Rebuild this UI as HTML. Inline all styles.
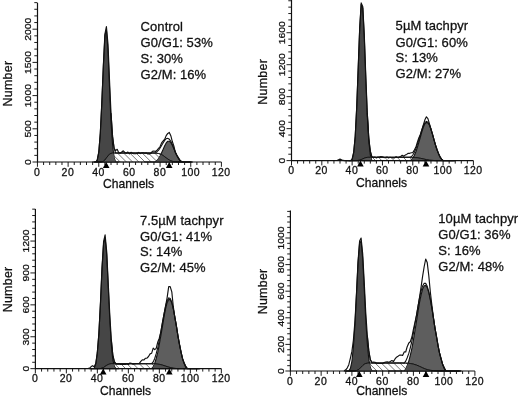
<!DOCTYPE html>
<html><head><meta charset="utf-8"><title>Cell cycle histograms</title>
<style>
html,body{margin:0;padding:0;background:#fff;}
svg{display:block}
text{font-family:"Liberation Sans",sans-serif;fill:#111;stroke:#111;stroke-width:0.28px}
.xt{font-size:10.0px;text-anchor:middle;letter-spacing:0.45px}
.yt{font-size:9.9px;text-anchor:middle}
.ch{font-size:12.1px}
.nm{font-size:12.4px;text-anchor:middle;letter-spacing:0.3px}
.an{font-size:13px;letter-spacing:0.07px}
</style></head>
<body>
<svg style="filter:grayscale(1)" width="520" height="397" viewBox="0 0 520 397">
<rect width="520" height="397" fill="#fff"/>
<clipPath id="cs1"><polygon points="94.2,162.0 94.2,162.0 95.7,162.0 97.2,162.0 98.8,162.0 100.3,162.0 101.8,161.8 103.4,161.3 104.9,160.0 106.4,158.0 108.0,155.9 109.5,154.2 111.0,153.4 112.6,153.1 114.1,153.0 115.6,153.0 117.2,153.0 118.7,153.0 120.2,153.0 121.8,153.0 123.3,153.0 124.8,153.0 126.4,153.0 127.9,153.0 129.4,153.0 131.0,153.0 132.5,153.0 134.0,153.0 135.6,153.0 137.1,153.0 138.6,153.0 140.2,153.0 141.7,153.0 143.2,153.0 144.8,153.0 146.3,153.0 147.8,153.0 149.4,153.0 150.9,153.0 152.4,153.0 154.0,153.0 155.5,153.1 157.0,153.3 158.6,153.5 160.1,154.0 161.6,154.6 163.2,155.6 164.7,156.7 166.2,157.9 167.8,159.0 169.3,160.0 170.8,160.8 172.4,161.3 173.9,161.7 175.4,161.8 177.0,161.9 178.5,162.0 180.0,162.0 181.6,162.0 183.1,162.0 184.6,162.0 186.2,162.0 187.7,162.0 189.2,162.0 190.8,162.0 190.8,162.0"/></clipPath>
<path d="M74.2,147.0l21.0,21.0M80.4,147.0l21.0,21.0M86.6,147.0l21.0,21.0M92.8,147.0l21.0,21.0M99.0,147.0l21.0,21.0M105.2,147.0l21.0,21.0M111.4,147.0l21.0,21.0M117.6,147.0l21.0,21.0M123.8,147.0l21.0,21.0M130.0,147.0l21.0,21.0M136.2,147.0l21.0,21.0M142.4,147.0l21.0,21.0M148.6,147.0l21.0,21.0M154.8,147.0l21.0,21.0M161.0,147.0l21.0,21.0M167.2,147.0l21.0,21.0M173.4,147.0l21.0,21.0M179.6,147.0l21.0,21.0M185.8,147.0l21.0,21.0M192.0,147.0l21.0,21.0" stroke="#666" stroke-width="0.9" fill="none" clip-path="url(#cs1)"/>
<polygon points="92.6,162.0 92.6,162.0 94.2,162.0 95.7,162.0 97.2,160.0 98.8,151.7 100.3,133.5 101.8,102.9 103.4,65.3 104.9,35.7 106.4,29.6 108.0,50.5 109.5,86.8 111.0,121.7 112.6,145.3 114.1,157.4 115.6,162.0 117.2,162.0 118.7,162.0 118.7,162.0" fill="#464646" stroke="#111" stroke-width="1.1" stroke-linejoin="round"/>
<polygon points="144.8,162.0 144.8,162.0 146.3,162.0 147.8,162.0 149.4,162.0 150.9,162.0 152.4,162.0 154.0,162.0 155.5,161.8 157.0,160.5 158.6,158.6 160.1,156.0 161.6,152.8 163.2,149.2 164.7,145.7 166.2,142.9 167.8,141.2 169.3,141.2 170.8,142.6 172.4,145.4 173.9,148.8 175.4,152.4 177.0,155.7 178.5,158.4 180.0,160.3 181.6,161.7 183.1,162.0 184.6,162.0 186.2,162.0 187.7,162.0 189.2,162.0 190.8,162.0 192.3,162.0 192.3,162.0" fill="#5e5e5e" stroke="#111" stroke-width="1.1" stroke-linejoin="round"/>
<polygon points="94.2,162.0 94.2,162.0 95.7,162.0 97.2,162.0 98.8,162.0 100.3,162.0 101.8,161.8 103.4,161.3 104.9,160.0 106.4,158.0 108.0,155.9 109.5,154.2 111.0,153.4 112.6,153.1 114.1,153.0 115.6,153.0 117.2,153.0 118.7,153.0 120.2,153.0 121.8,153.0 123.3,153.0 124.8,153.0 126.4,153.0 127.9,153.0 129.4,153.0 131.0,153.0 132.5,153.0 134.0,153.0 135.6,153.0 137.1,153.0 138.6,153.0 140.2,153.0 141.7,153.0 143.2,153.0 144.8,153.0 146.3,153.0 147.8,153.0 149.4,153.0 150.9,153.0 152.4,153.0 154.0,153.0 155.5,153.1 157.0,153.3 158.6,153.5 160.1,154.0 161.6,154.6 163.2,155.6 164.7,156.7 166.2,157.9 167.8,159.0 169.3,160.0 170.8,160.8 172.4,161.3 173.9,161.7 175.4,161.8 177.0,161.9 178.5,162.0 180.0,162.0 181.6,162.0 183.1,162.0 184.6,162.0 186.2,162.0 187.7,162.0 189.2,162.0 190.8,162.0 190.8,162.0" fill="#000" fill-opacity="0.0" stroke="#111" stroke-width="0.7"/>
<clipPath id="c11"><polygon points="92.6,162.0 92.6,162.0 94.2,162.0 95.7,162.0 97.2,160.0 98.8,151.7 100.3,133.5 101.8,102.9 103.4,65.3 104.9,35.7 106.4,29.6 108.0,50.5 109.5,86.8 111.0,121.7 112.6,145.3 114.1,157.4 115.6,162.0 117.2,162.0 118.7,162.0 118.7,162.0"/></clipPath><clipPath id="c21"><polygon points="144.8,162.0 144.8,162.0 146.3,162.0 147.8,162.0 149.4,162.0 150.9,162.0 152.4,162.0 154.0,162.0 155.5,161.8 157.0,160.5 158.6,158.6 160.1,156.0 161.6,152.8 163.2,149.2 164.7,145.7 166.2,142.9 167.8,141.2 169.3,141.2 170.8,142.6 172.4,145.4 173.9,148.8 175.4,152.4 177.0,155.7 178.5,158.4 180.0,160.3 181.6,161.7 183.1,162.0 184.6,162.0 186.2,162.0 187.7,162.0 189.2,162.0 190.8,162.0 192.3,162.0 192.3,162.0"/></clipPath>
<polygon points="94.2,162.0 94.2,162.0 95.7,162.0 97.2,162.0 98.8,162.0 100.3,162.0 101.8,161.8 103.4,161.3 104.9,160.0 106.4,158.0 108.0,155.9 109.5,154.2 111.0,153.4 112.6,153.1 114.1,153.0 115.6,153.0 117.2,153.0 118.7,153.0 120.2,153.0 121.8,153.0 123.3,153.0 124.8,153.0 126.4,153.0 127.9,153.0 129.4,153.0 131.0,153.0 132.5,153.0 134.0,153.0 135.6,153.0 137.1,153.0 138.6,153.0 140.2,153.0 141.7,153.0 143.2,153.0 144.8,153.0 146.3,153.0 147.8,153.0 149.4,153.0 150.9,153.0 152.4,153.0 154.0,153.0 155.5,153.1 157.0,153.3 158.6,153.5 160.1,154.0 161.6,154.6 163.2,155.6 164.7,156.7 166.2,157.9 167.8,159.0 169.3,160.0 170.8,160.8 172.4,161.3 173.9,161.7 175.4,161.8 177.0,161.9 178.5,162.0 180.0,162.0 181.6,162.0 183.1,162.0 184.6,162.0 186.2,162.0 187.7,162.0 189.2,162.0 190.8,162.0 190.8,162.0" fill="#575757" clip-path="url(#c11)"/>
<polygon points="94.2,162.0 94.2,162.0 95.7,162.0 97.2,162.0 98.8,162.0 100.3,162.0 101.8,161.8 103.4,161.3 104.9,160.0 106.4,158.0 108.0,155.9 109.5,154.2 111.0,153.4 112.6,153.1 114.1,153.0 115.6,153.0 117.2,153.0 118.7,153.0 120.2,153.0 121.8,153.0 123.3,153.0 124.8,153.0 126.4,153.0 127.9,153.0 129.4,153.0 131.0,153.0 132.5,153.0 134.0,153.0 135.6,153.0 137.1,153.0 138.6,153.0 140.2,153.0 141.7,153.0 143.2,153.0 144.8,153.0 146.3,153.0 147.8,153.0 149.4,153.0 150.9,153.0 152.4,153.0 154.0,153.0 155.5,153.1 157.0,153.3 158.6,153.5 160.1,154.0 161.6,154.6 163.2,155.6 164.7,156.7 166.2,157.9 167.8,159.0 169.3,160.0 170.8,160.8 172.4,161.3 173.9,161.7 175.4,161.8 177.0,161.9 178.5,162.0 180.0,162.0 181.6,162.0 183.1,162.0 184.6,162.0 186.2,162.0 187.7,162.0 189.2,162.0 190.8,162.0 190.8,162.0" fill="#505050" clip-path="url(#c21)"/>
<polyline points="94.2,162.0 95.7,162.0 97.2,162.0 98.8,162.0 100.3,162.0 101.8,161.8 103.4,161.3 104.9,160.0 106.4,158.0 108.0,155.9 109.5,154.2 111.0,153.4 112.6,153.1 114.1,153.0 115.6,153.0 117.2,153.0 118.7,153.0 120.2,153.0 121.8,153.0 123.3,153.0 124.8,153.0 126.4,153.0 127.9,153.0 129.4,153.0 131.0,153.0 132.5,153.0 134.0,153.0 135.6,153.0 137.1,153.0 138.6,153.0 140.2,153.0 141.7,153.0 143.2,153.0 144.8,153.0 146.3,153.0 147.8,153.0 149.4,153.0 150.9,153.0 152.4,153.0 154.0,153.0 155.5,153.1 157.0,153.3 158.6,153.5 160.1,154.0 161.6,154.6 163.2,155.6 164.7,156.7 166.2,157.9 167.8,159.0 169.3,160.0 170.8,160.8 172.4,161.3 173.9,161.7 175.4,161.8 177.0,161.9 178.5,162.0 180.0,162.0 181.6,162.0 183.1,162.0 184.6,162.0 186.2,162.0 187.7,162.0 189.2,162.0 190.8,162.0" fill="none" stroke="#111" stroke-width="0.9"/>
<polyline points="111.0,113.1 112.6,136.4 114.1,148.4 115.6,153.0 117.2,153.0 118.7,153.0 120.2,153.0 121.8,153.0 123.3,153.0 124.8,153.0 126.4,153.0 127.9,153.0 129.4,153.0 131.0,153.0 132.5,153.0 134.0,153.0 135.6,153.0 137.1,153.0 138.6,153.0 140.2,153.0 141.7,153.0 143.2,153.0 144.8,153.0 146.3,153.0 147.8,153.0 149.4,153.0 150.9,153.0 152.4,153.0 154.0,153.0 155.5,152.9 157.0,151.7 158.6,150.1 160.1,148.0 161.6,145.4 163.2,142.7 164.7,140.4 166.2,138.7 167.8,138.3 169.3,139.2 170.8,141.4 172.4,144.7 173.9,148.5 175.4,152.3 177.0,155.6 178.5,158.4 180.0,160.3 181.6,161.6 183.1,162.0 184.6,162.0 186.2,162.0 187.7,162.0 189.2,162.0 190.8,162.0 192.3,162.0" fill="none" stroke="#111" stroke-width="1.1"/>
<polyline points="95.7,161.8 97.2,160.4 98.8,152.4 100.3,133.1 101.8,103.5 103.4,64.5 104.9,34.0 106.4,26.5 108.0,44.3 109.5,79.9 111.0,113.2 112.6,137.1 114.1,148.4 115.6,150.6 117.2,149.3 118.7,152.7 120.2,153.3 121.8,152.0 123.3,150.8 124.8,152.5 126.4,153.2 127.9,152.0 129.4,153.9 131.0,152.3 132.5,153.4 134.0,153.7 135.6,153.8 137.1,153.4 138.6,152.4 140.2,153.6 141.7,152.8 143.2,152.7 144.8,153.3 146.3,152.9 147.8,153.9 149.4,153.9 150.9,153.4 152.4,151.3 154.0,151.0 155.5,151.5 157.0,150.1 158.6,148.4 160.1,146.5 161.6,142.9 163.2,140.8 164.7,139.2 166.2,135.6 167.8,133.4 169.3,132.4 170.8,135.7 172.4,141.8 173.9,146.1 175.4,152.6 177.0,155.7 178.5,157.8 180.0,161.0 181.6,161.6 183.1,161.8" fill="#fff" fill-opacity="0" stroke="#111" stroke-width="1.15" stroke-linejoin="round"/>
<path d="M37.5,3.0V162.0H221.4" fill="none" stroke="#111" stroke-width="1.2"/>
<path d="M37.45,162.0v4.8M43.58,162.0v3.0M49.71,162.0v3.0M55.85,162.0v3.0M61.98,162.0v3.0M68.11,162.0v4.8M74.24,162.0v3.0M80.37,162.0v3.0M86.51,162.0v3.0M92.64,162.0v3.0M98.77,162.0v4.8M104.90,162.0v3.0M111.03,162.0v3.0M117.17,162.0v3.0M123.30,162.0v3.0M129.43,162.0v4.8M135.56,162.0v3.0M141.69,162.0v3.0M147.83,162.0v3.0M153.96,162.0v3.0M160.09,162.0v4.8M166.22,162.0v3.0M172.35,162.0v3.0M178.49,162.0v3.0M184.62,162.0v3.0M190.75,162.0v4.8M196.88,162.0v3.0M203.01,162.0v3.0M209.15,162.0v3.0M215.28,162.0v3.0M221.41,162.0v4.8M37.5,162.00h-5.0M37.5,155.36h-3.2M37.5,148.72h-3.2M37.5,142.08h-3.2M37.5,135.44h-3.2M37.5,128.80h-5.0M37.5,122.16h-3.2M37.5,115.52h-3.2M37.5,108.88h-3.2M37.5,102.24h-3.2M37.5,95.60h-5.0M37.5,88.96h-3.2M37.5,82.32h-3.2M37.5,75.68h-3.2M37.5,69.04h-3.2M37.5,62.40h-5.0M37.5,55.76h-3.2M37.5,49.12h-3.2M37.5,42.48h-3.2M37.5,35.84h-3.2M37.5,29.20h-5.0M37.5,22.56h-3.2M37.5,15.92h-3.2M37.5,9.28h-3.2M37.5,2.64h-3.2" stroke="#111" stroke-width="0.95" fill="none"/>
<text transform="translate(37.2,175.6) scale(1.05,1)" class="xt">0</text>
<text transform="translate(67.9,175.6) scale(1.05,1)" class="xt">20</text>
<text transform="translate(98.6,175.6) scale(1.05,1)" class="xt">40</text>
<text transform="translate(129.2,175.6) scale(1.05,1)" class="xt">60</text>
<text transform="translate(159.9,175.6) scale(1.05,1)" class="xt">80</text>
<text transform="translate(190.6,175.6) scale(1.05,1)" class="xt">100</text>
<text transform="translate(221.2,175.6) scale(1.05,1)" class="xt">120</text>
<text transform="translate(30.7,162.0) rotate(-90) scale(1.05,1)" class="yt">0</text>
<text transform="translate(30.7,128.8) rotate(-90) scale(1.05,1)" class="yt">500</text>
<text transform="translate(30.7,95.6) rotate(-90) scale(1.05,1)" class="yt">1000</text>
<text transform="translate(30.7,62.4) rotate(-90) scale(1.05,1)" class="yt">1500</text>
<text transform="translate(30.7,29.2) rotate(-90) scale(1.05,1)" class="yt">2000</text>
<text x="103.0" y="187.6" class="ch">Channels</text>
<text transform="translate(12.3,83.5) rotate(-90)" class="nm">Number</text>
<path d="M102.9,168.0L106.2,161.9L109.5,168.0Z" fill="#000"/>
<path d="M165.9,168.0L169.2,161.9L172.5,168.0Z" fill="#000"/>
<text x="140.6" y="30.8" class="an">Control</text>
<text x="140.6" y="46.9" class="an">G0/G1: 53%</text>
<text x="140.6" y="62.9" class="an">S: 30%</text>
<text x="140.6" y="78.8" class="an">G2/M: 16%</text>
<clipPath id="cs2"><polygon points="349.1,160.6 349.1,160.6 350.6,160.6 352.1,160.6 353.7,160.6 355.2,160.6 356.7,160.6 358.2,160.4 359.7,160.2 361.2,159.6 362.8,158.9 364.3,158.2 365.8,157.7 367.3,157.4 368.8,157.3 370.3,157.3 371.8,157.3 373.4,157.3 374.9,157.3 376.4,157.3 377.9,157.3 379.4,157.3 380.9,157.3 382.5,157.3 384.0,157.3 385.5,157.3 387.0,157.3 388.5,157.3 390.0,157.3 391.6,157.3 393.1,157.3 394.6,157.3 396.1,157.3 397.6,157.3 399.1,157.3 400.7,157.3 402.2,157.3 403.7,157.3 405.2,157.3 406.7,157.3 408.2,157.3 409.7,157.3 411.3,157.3 412.8,157.4 414.3,157.5 415.8,157.6 417.3,157.7 418.8,158.0 420.4,158.3 421.9,158.6 423.4,158.9 424.9,159.3 426.4,159.6 427.9,159.9 429.5,160.2 431.0,160.3 432.5,160.4 434.0,160.5 435.5,160.6 437.0,160.6 438.6,160.6 440.1,160.6 441.6,160.6 443.1,160.6 444.6,160.6 446.1,160.6 447.6,160.6 449.2,160.6 450.7,160.6 452.2,160.6 453.7,160.6 453.7,160.6"/></clipPath>
<path d="M329.1,151.3l15.3,15.3M335.3,151.3l15.3,15.3M341.5,151.3l15.3,15.3M347.7,151.3l15.3,15.3M353.9,151.3l15.3,15.3M360.1,151.3l15.3,15.3M366.3,151.3l15.3,15.3M372.5,151.3l15.3,15.3M378.7,151.3l15.3,15.3M384.9,151.3l15.3,15.3M391.1,151.3l15.3,15.3M397.3,151.3l15.3,15.3M403.5,151.3l15.3,15.3M409.7,151.3l15.3,15.3M415.9,151.3l15.3,15.3M422.1,151.3l15.3,15.3M428.3,151.3l15.3,15.3M434.5,151.3l15.3,15.3M440.7,151.3l15.3,15.3M446.9,151.3l15.3,15.3M453.1,151.3l15.3,15.3" stroke="#666" stroke-width="0.9" fill="none" clip-path="url(#cs2)"/>
<polygon points="347.6,160.6 347.6,160.6 349.1,160.6 350.6,160.6 352.1,159.4 353.7,152.3 355.2,136.3 356.7,107.7 358.2,68.2 359.7,28.3 361.2,4.4 362.8,8.1 364.3,37.7 365.8,78.9 367.3,116.3 368.8,141.5 370.3,154.8 371.8,160.4 373.4,160.6 374.9,160.6 376.4,160.6 376.4,160.6" fill="#464646" stroke="#111" stroke-width="1.1" stroke-linejoin="round"/>
<polygon points="399.1,160.6 399.1,160.6 400.7,160.6 402.2,160.6 403.7,160.6 405.2,160.6 406.7,160.6 408.2,160.6 409.7,160.6 411.3,160.0 412.8,158.2 414.3,155.5 415.8,152.0 417.3,147.6 418.8,142.5 420.4,137.0 421.9,131.7 423.4,127.1 424.9,123.8 426.4,122.4 427.9,122.9 429.5,125.3 431.0,129.3 432.5,134.3 434.0,139.8 435.5,145.1 437.0,149.9 438.6,153.9 440.1,157.0 441.6,159.2 443.1,160.6 444.6,160.6 446.1,160.6 447.6,160.6 449.2,160.6 450.7,160.6 452.2,160.6 453.7,160.6 455.2,160.6 455.2,160.6" fill="#5e5e5e" stroke="#111" stroke-width="1.1" stroke-linejoin="round"/>
<polygon points="349.1,160.6 349.1,160.6 350.6,160.6 352.1,160.6 353.7,160.6 355.2,160.6 356.7,160.6 358.2,160.4 359.7,160.2 361.2,159.6 362.8,158.9 364.3,158.2 365.8,157.7 367.3,157.4 368.8,157.3 370.3,157.3 371.8,157.3 373.4,157.3 374.9,157.3 376.4,157.3 377.9,157.3 379.4,157.3 380.9,157.3 382.5,157.3 384.0,157.3 385.5,157.3 387.0,157.3 388.5,157.3 390.0,157.3 391.6,157.3 393.1,157.3 394.6,157.3 396.1,157.3 397.6,157.3 399.1,157.3 400.7,157.3 402.2,157.3 403.7,157.3 405.2,157.3 406.7,157.3 408.2,157.3 409.7,157.3 411.3,157.3 412.8,157.4 414.3,157.5 415.8,157.6 417.3,157.7 418.8,158.0 420.4,158.3 421.9,158.6 423.4,158.9 424.9,159.3 426.4,159.6 427.9,159.9 429.5,160.2 431.0,160.3 432.5,160.4 434.0,160.5 435.5,160.6 437.0,160.6 438.6,160.6 440.1,160.6 441.6,160.6 443.1,160.6 444.6,160.6 446.1,160.6 447.6,160.6 449.2,160.6 450.7,160.6 452.2,160.6 453.7,160.6 453.7,160.6" fill="#000" fill-opacity="0.0" stroke="#111" stroke-width="0.7"/>
<clipPath id="c12"><polygon points="347.6,160.6 347.6,160.6 349.1,160.6 350.6,160.6 352.1,159.4 353.7,152.3 355.2,136.3 356.7,107.7 358.2,68.2 359.7,28.3 361.2,4.4 362.8,8.1 364.3,37.7 365.8,78.9 367.3,116.3 368.8,141.5 370.3,154.8 371.8,160.4 373.4,160.6 374.9,160.6 376.4,160.6 376.4,160.6"/></clipPath><clipPath id="c22"><polygon points="399.1,160.6 399.1,160.6 400.7,160.6 402.2,160.6 403.7,160.6 405.2,160.6 406.7,160.6 408.2,160.6 409.7,160.6 411.3,160.0 412.8,158.2 414.3,155.5 415.8,152.0 417.3,147.6 418.8,142.5 420.4,137.0 421.9,131.7 423.4,127.1 424.9,123.8 426.4,122.4 427.9,122.9 429.5,125.3 431.0,129.3 432.5,134.3 434.0,139.8 435.5,145.1 437.0,149.9 438.6,153.9 440.1,157.0 441.6,159.2 443.1,160.6 444.6,160.6 446.1,160.6 447.6,160.6 449.2,160.6 450.7,160.6 452.2,160.6 453.7,160.6 455.2,160.6 455.2,160.6"/></clipPath>
<polygon points="349.1,160.6 349.1,160.6 350.6,160.6 352.1,160.6 353.7,160.6 355.2,160.6 356.7,160.6 358.2,160.4 359.7,160.2 361.2,159.6 362.8,158.9 364.3,158.2 365.8,157.7 367.3,157.4 368.8,157.3 370.3,157.3 371.8,157.3 373.4,157.3 374.9,157.3 376.4,157.3 377.9,157.3 379.4,157.3 380.9,157.3 382.5,157.3 384.0,157.3 385.5,157.3 387.0,157.3 388.5,157.3 390.0,157.3 391.6,157.3 393.1,157.3 394.6,157.3 396.1,157.3 397.6,157.3 399.1,157.3 400.7,157.3 402.2,157.3 403.7,157.3 405.2,157.3 406.7,157.3 408.2,157.3 409.7,157.3 411.3,157.3 412.8,157.4 414.3,157.5 415.8,157.6 417.3,157.7 418.8,158.0 420.4,158.3 421.9,158.6 423.4,158.9 424.9,159.3 426.4,159.6 427.9,159.9 429.5,160.2 431.0,160.3 432.5,160.4 434.0,160.5 435.5,160.6 437.0,160.6 438.6,160.6 440.1,160.6 441.6,160.6 443.1,160.6 444.6,160.6 446.1,160.6 447.6,160.6 449.2,160.6 450.7,160.6 452.2,160.6 453.7,160.6 453.7,160.6" fill="#575757" clip-path="url(#c12)"/>
<polygon points="349.1,160.6 349.1,160.6 350.6,160.6 352.1,160.6 353.7,160.6 355.2,160.6 356.7,160.6 358.2,160.4 359.7,160.2 361.2,159.6 362.8,158.9 364.3,158.2 365.8,157.7 367.3,157.4 368.8,157.3 370.3,157.3 371.8,157.3 373.4,157.3 374.9,157.3 376.4,157.3 377.9,157.3 379.4,157.3 380.9,157.3 382.5,157.3 384.0,157.3 385.5,157.3 387.0,157.3 388.5,157.3 390.0,157.3 391.6,157.3 393.1,157.3 394.6,157.3 396.1,157.3 397.6,157.3 399.1,157.3 400.7,157.3 402.2,157.3 403.7,157.3 405.2,157.3 406.7,157.3 408.2,157.3 409.7,157.3 411.3,157.3 412.8,157.4 414.3,157.5 415.8,157.6 417.3,157.7 418.8,158.0 420.4,158.3 421.9,158.6 423.4,158.9 424.9,159.3 426.4,159.6 427.9,159.9 429.5,160.2 431.0,160.3 432.5,160.4 434.0,160.5 435.5,160.6 437.0,160.6 438.6,160.6 440.1,160.6 441.6,160.6 443.1,160.6 444.6,160.6 446.1,160.6 447.6,160.6 449.2,160.6 450.7,160.6 452.2,160.6 453.7,160.6 453.7,160.6" fill="#505050" clip-path="url(#c22)"/>
<polyline points="349.1,160.6 350.6,160.6 352.1,160.6 353.7,160.6 355.2,160.6 356.7,160.6 358.2,160.4 359.7,160.2 361.2,159.6 362.8,158.9 364.3,158.2 365.8,157.7 367.3,157.4 368.8,157.3 370.3,157.3 371.8,157.3 373.4,157.3 374.9,157.3 376.4,157.3 377.9,157.3 379.4,157.3 380.9,157.3 382.5,157.3 384.0,157.3 385.5,157.3 387.0,157.3 388.5,157.3 390.0,157.3 391.6,157.3 393.1,157.3 394.6,157.3 396.1,157.3 397.6,157.3 399.1,157.3 400.7,157.3 402.2,157.3 403.7,157.3 405.2,157.3 406.7,157.3 408.2,157.3 409.7,157.3 411.3,157.3 412.8,157.4 414.3,157.5 415.8,157.6 417.3,157.7 418.8,158.0 420.4,158.3 421.9,158.6 423.4,158.9 424.9,159.3 426.4,159.6 427.9,159.9 429.5,160.2 431.0,160.3 432.5,160.4 434.0,160.5 435.5,160.6 437.0,160.6 438.6,160.6 440.1,160.6 441.6,160.6 443.1,160.6 444.6,160.6 446.1,160.6 447.6,160.6 449.2,160.6 450.7,160.6 452.2,160.6 453.7,160.6" fill="none" stroke="#111" stroke-width="0.9"/>
<polyline points="367.3,113.1 368.8,138.2 370.3,151.5 371.8,157.1 373.4,157.3 374.9,157.3 376.4,157.3 377.9,157.3 379.4,157.3 380.9,157.3 382.5,157.3 384.0,157.3 385.5,157.3 387.0,157.3 388.5,157.3 390.0,157.3 391.6,157.3 393.1,157.3 394.6,157.3 396.1,157.3 397.6,157.3 399.1,157.3 400.7,157.3 402.2,157.3 403.7,157.3 405.2,157.3 406.7,157.3 408.2,157.3 409.7,157.3 411.3,156.8 412.8,155.0 414.3,152.4 415.8,149.0 417.3,144.7 418.8,139.9 420.4,134.7 421.9,129.7 423.4,125.5 424.9,122.6 426.4,121.4 427.9,122.2 429.5,124.9 431.0,129.0 432.5,134.2 434.0,139.7 435.5,145.1 437.0,149.9 438.6,153.9 440.1,157.0 441.6,159.2 443.1,160.6 444.6,160.6 446.1,160.6 447.6,160.6 449.2,160.6 450.7,160.6 452.2,160.6 453.7,160.6 455.2,160.6" fill="none" stroke="#111" stroke-width="1.1"/>
<polyline points="337.0,160.4 338.5,159.7 340.0,159.1 341.5,159.7 343.0,160.4 344.6,160.6 346.1,160.6 347.6,160.6 349.1,160.6 350.6,160.6 352.1,159.4 353.7,152.3 355.2,136.9 356.7,107.4 358.2,67.7 359.7,27.8 361.2,2.9 362.8,6.7 364.3,35.0 365.8,75.9 367.3,113.0 368.8,138.2 370.3,151.0 371.8,156.5 373.4,157.3 374.9,157.1 376.4,157.9 377.9,157.0 379.4,157.1 380.9,156.6 382.5,156.8 384.0,157.6 385.5,157.5 387.0,157.1 388.5,158.0 390.0,157.3 391.6,157.7 393.1,157.8 394.6,157.8 396.1,156.7 397.6,157.5 399.1,157.1 400.7,156.5 402.2,155.3 403.7,156.3 405.2,155.1 406.7,154.4 408.2,153.3 409.7,153.3 411.3,152.8 412.8,152.6 414.3,150.1 415.8,147.3 417.3,142.5 418.8,138.0 420.4,134.5 421.9,129.6 423.4,124.6 424.9,119.8 426.4,116.8 427.9,118.6 429.5,123.9 431.0,129.5 432.5,134.3 434.0,139.9 435.5,145.0 437.0,149.3 438.6,153.6 440.1,156.9 441.6,159.2 443.1,160.4" fill="#fff" fill-opacity="0" stroke="#111" stroke-width="1.15" stroke-linejoin="round"/>
<path d="M291.5,0.0V160.6H473.4" fill="none" stroke="#111" stroke-width="1.2"/>
<path d="M291.50,160.6v4.8M297.56,160.6v3.0M303.63,160.6v3.0M309.69,160.6v3.0M315.76,160.6v3.0M321.82,160.6v4.8M327.88,160.6v3.0M333.95,160.6v3.0M340.01,160.6v3.0M346.08,160.6v3.0M352.14,160.6v4.8M358.20,160.6v3.0M364.27,160.6v3.0M370.33,160.6v3.0M376.40,160.6v3.0M382.46,160.6v4.8M388.52,160.6v3.0M394.59,160.6v3.0M400.65,160.6v3.0M406.72,160.6v3.0M412.78,160.6v4.8M418.84,160.6v3.0M424.91,160.6v3.0M430.97,160.6v3.0M437.04,160.6v3.0M443.10,160.6v4.8M449.16,160.6v3.0M455.23,160.6v3.0M461.29,160.6v3.0M467.36,160.6v3.0M473.42,160.6v4.8M291.5,160.60h-5.0M291.5,154.21h-3.2M291.5,147.81h-3.2M291.5,141.42h-3.2M291.5,135.02h-3.2M291.5,128.63h-5.0M291.5,122.24h-3.2M291.5,115.84h-3.2M291.5,109.45h-3.2M291.5,103.05h-3.2M291.5,96.66h-5.0M291.5,90.27h-3.2M291.5,83.87h-3.2M291.5,77.48h-3.2M291.5,71.08h-3.2M291.5,64.69h-5.0M291.5,58.30h-3.2M291.5,51.90h-3.2M291.5,45.51h-3.2M291.5,39.11h-3.2M291.5,32.72h-5.0M291.5,26.33h-3.2M291.5,19.93h-3.2M291.5,13.54h-3.2M291.5,7.14h-3.2M291.5,0.75h-3.2" stroke="#111" stroke-width="0.95" fill="none"/>
<text transform="translate(291.3,174.2) scale(1.05,1)" class="xt">0</text>
<text transform="translate(321.6,174.2) scale(1.05,1)" class="xt">20</text>
<text transform="translate(351.9,174.2) scale(1.05,1)" class="xt">40</text>
<text transform="translate(382.3,174.2) scale(1.05,1)" class="xt">60</text>
<text transform="translate(412.6,174.2) scale(1.05,1)" class="xt">80</text>
<text transform="translate(442.9,174.2) scale(1.05,1)" class="xt">100</text>
<text transform="translate(473.2,174.2) scale(1.05,1)" class="xt">120</text>
<text transform="translate(284.7,160.6) rotate(-90) scale(1.05,1)" class="yt">0</text>
<text transform="translate(284.7,128.6) rotate(-90) scale(1.05,1)" class="yt">400</text>
<text transform="translate(284.7,96.7) rotate(-90) scale(1.05,1)" class="yt">800</text>
<text transform="translate(284.7,64.7) rotate(-90) scale(1.05,1)" class="yt">1200</text>
<text transform="translate(284.7,32.7) rotate(-90) scale(1.05,1)" class="yt">1600</text>
<text x="356.0" y="186.7" class="ch">Channels</text>
<text transform="translate(267.1,81.8) rotate(-90)" class="nm">Number</text>
<path d="M357.1,166.6L360.4,160.5L363.7,166.6Z" fill="#000"/>
<path d="M422.7,166.6L426.0,160.5L429.3,166.6Z" fill="#000"/>
<text x="395.6" y="30.2" class="an">5µM tachpyr</text>
<text x="395.6" y="46.5" class="an">G0/G1: 60%</text>
<text x="395.6" y="62.3" class="an">S: 13%</text>
<text x="395.6" y="78.3" class="an">G2/M: 27%</text>
<clipPath id="cs3"><polygon points="91.2,368.6 91.2,368.6 92.7,368.6 94.2,368.6 95.8,368.6 97.3,368.6 98.9,368.6 100.5,368.5 102.0,368.1 103.6,367.5 105.1,366.4 106.7,365.3 108.2,364.5 109.8,364.0 111.3,363.7 112.8,363.7 114.4,363.7 116.0,363.7 117.5,363.7 119.1,363.7 120.6,363.7 122.2,363.7 123.7,363.7 125.2,363.7 126.8,363.7 128.3,363.7 129.9,363.7 131.5,363.7 133.0,363.7 134.6,363.7 136.1,363.7 137.7,363.7 139.2,363.7 140.8,363.7 142.3,363.7 143.8,363.7 145.4,363.7 147.0,363.7 148.5,363.7 150.1,363.7 151.6,363.7 153.2,363.7 154.7,363.8 156.2,363.9 157.8,364.1 159.3,364.3 160.9,364.7 162.5,365.1 164.0,365.6 165.6,366.1 167.1,366.6 168.7,367.1 170.2,367.5 171.8,367.9 173.3,368.2 174.8,368.4 176.4,368.5 177.9,368.6 179.5,368.6 181.1,368.6 182.6,368.6 184.2,368.6 185.7,368.6 187.2,368.6 188.8,368.6 190.3,368.6 191.9,368.6 193.4,368.6 195.0,368.6 196.6,368.6 198.1,368.6 198.1,368.6"/></clipPath>
<path d="M71.2,357.6l17.0,17.0M77.4,357.6l17.0,17.0M83.6,357.6l17.0,17.0M89.8,357.6l17.0,17.0M96.0,357.6l17.0,17.0M102.2,357.6l17.0,17.0M108.4,357.6l17.0,17.0M114.6,357.6l17.0,17.0M120.8,357.6l17.0,17.0M127.0,357.6l17.0,17.0M133.2,357.6l17.0,17.0M139.4,357.6l17.0,17.0M145.6,357.6l17.0,17.0M151.8,357.6l17.0,17.0M157.9,357.6l17.0,17.0M164.1,357.6l17.0,17.0M170.3,357.6l17.0,17.0M176.5,357.6l17.0,17.0M182.7,357.6l17.0,17.0M188.9,357.6l17.0,17.0M195.1,357.6l17.0,17.0M201.3,357.6l17.0,17.0" stroke="#666" stroke-width="0.9" fill="none" clip-path="url(#cs3)"/>
<polygon points="89.6,368.6 89.6,368.6 91.2,368.6 92.7,368.6 94.2,368.4 95.8,363.8 97.3,353.0 98.9,332.8 100.5,302.7 102.0,268.9 103.6,243.3 105.1,237.7 106.7,254.6 108.2,286.2 109.8,319.3 111.3,344.6 112.8,359.6 114.4,366.7 116.0,368.6 117.5,368.6 119.1,368.6 119.1,368.6" fill="#464646" stroke="#111" stroke-width="1.1" stroke-linejoin="round"/>
<polygon points="139.2,368.6 139.2,368.6 140.8,368.6 142.3,368.6 143.8,368.6 145.4,368.6 147.0,368.6 148.5,368.6 150.1,368.6 151.6,368.6 153.2,366.9 154.7,363.4 156.2,358.5 157.8,352.2 159.3,344.4 160.9,335.5 162.5,326.1 164.0,316.8 165.6,308.7 167.1,302.7 168.7,299.5 170.2,299.6 171.8,302.9 173.3,309.0 174.8,317.1 176.4,326.4 177.9,335.8 179.5,344.7 181.1,352.4 182.6,358.7 184.2,363.5 185.7,367.0 187.2,368.6 188.8,368.6 190.3,368.6 191.9,368.6 193.4,368.6 195.0,368.6 196.6,368.6 198.1,368.6 199.7,368.6 199.7,368.6" fill="#5e5e5e" stroke="#111" stroke-width="1.1" stroke-linejoin="round"/>
<polygon points="91.2,368.6 91.2,368.6 92.7,368.6 94.2,368.6 95.8,368.6 97.3,368.6 98.9,368.6 100.5,368.5 102.0,368.1 103.6,367.5 105.1,366.4 106.7,365.3 108.2,364.5 109.8,364.0 111.3,363.7 112.8,363.7 114.4,363.7 116.0,363.7 117.5,363.7 119.1,363.7 120.6,363.7 122.2,363.7 123.7,363.7 125.2,363.7 126.8,363.7 128.3,363.7 129.9,363.7 131.5,363.7 133.0,363.7 134.6,363.7 136.1,363.7 137.7,363.7 139.2,363.7 140.8,363.7 142.3,363.7 143.8,363.7 145.4,363.7 147.0,363.7 148.5,363.7 150.1,363.7 151.6,363.7 153.2,363.7 154.7,363.8 156.2,363.9 157.8,364.1 159.3,364.3 160.9,364.7 162.5,365.1 164.0,365.6 165.6,366.1 167.1,366.6 168.7,367.1 170.2,367.5 171.8,367.9 173.3,368.2 174.8,368.4 176.4,368.5 177.9,368.6 179.5,368.6 181.1,368.6 182.6,368.6 184.2,368.6 185.7,368.6 187.2,368.6 188.8,368.6 190.3,368.6 191.9,368.6 193.4,368.6 195.0,368.6 196.6,368.6 198.1,368.6 198.1,368.6" fill="#000" fill-opacity="0.0" stroke="#111" stroke-width="0.7"/>
<clipPath id="c13"><polygon points="89.6,368.6 89.6,368.6 91.2,368.6 92.7,368.6 94.2,368.4 95.8,363.8 97.3,353.0 98.9,332.8 100.5,302.7 102.0,268.9 103.6,243.3 105.1,237.7 106.7,254.6 108.2,286.2 109.8,319.3 111.3,344.6 112.8,359.6 114.4,366.7 116.0,368.6 117.5,368.6 119.1,368.6 119.1,368.6"/></clipPath><clipPath id="c23"><polygon points="139.2,368.6 139.2,368.6 140.8,368.6 142.3,368.6 143.8,368.6 145.4,368.6 147.0,368.6 148.5,368.6 150.1,368.6 151.6,368.6 153.2,366.9 154.7,363.4 156.2,358.5 157.8,352.2 159.3,344.4 160.9,335.5 162.5,326.1 164.0,316.8 165.6,308.7 167.1,302.7 168.7,299.5 170.2,299.6 171.8,302.9 173.3,309.0 174.8,317.1 176.4,326.4 177.9,335.8 179.5,344.7 181.1,352.4 182.6,358.7 184.2,363.5 185.7,367.0 187.2,368.6 188.8,368.6 190.3,368.6 191.9,368.6 193.4,368.6 195.0,368.6 196.6,368.6 198.1,368.6 199.7,368.6 199.7,368.6"/></clipPath>
<polygon points="91.2,368.6 91.2,368.6 92.7,368.6 94.2,368.6 95.8,368.6 97.3,368.6 98.9,368.6 100.5,368.5 102.0,368.1 103.6,367.5 105.1,366.4 106.7,365.3 108.2,364.5 109.8,364.0 111.3,363.7 112.8,363.7 114.4,363.7 116.0,363.7 117.5,363.7 119.1,363.7 120.6,363.7 122.2,363.7 123.7,363.7 125.2,363.7 126.8,363.7 128.3,363.7 129.9,363.7 131.5,363.7 133.0,363.7 134.6,363.7 136.1,363.7 137.7,363.7 139.2,363.7 140.8,363.7 142.3,363.7 143.8,363.7 145.4,363.7 147.0,363.7 148.5,363.7 150.1,363.7 151.6,363.7 153.2,363.7 154.7,363.8 156.2,363.9 157.8,364.1 159.3,364.3 160.9,364.7 162.5,365.1 164.0,365.6 165.6,366.1 167.1,366.6 168.7,367.1 170.2,367.5 171.8,367.9 173.3,368.2 174.8,368.4 176.4,368.5 177.9,368.6 179.5,368.6 181.1,368.6 182.6,368.6 184.2,368.6 185.7,368.6 187.2,368.6 188.8,368.6 190.3,368.6 191.9,368.6 193.4,368.6 195.0,368.6 196.6,368.6 198.1,368.6 198.1,368.6" fill="#575757" clip-path="url(#c13)"/>
<polygon points="91.2,368.6 91.2,368.6 92.7,368.6 94.2,368.6 95.8,368.6 97.3,368.6 98.9,368.6 100.5,368.5 102.0,368.1 103.6,367.5 105.1,366.4 106.7,365.3 108.2,364.5 109.8,364.0 111.3,363.7 112.8,363.7 114.4,363.7 116.0,363.7 117.5,363.7 119.1,363.7 120.6,363.7 122.2,363.7 123.7,363.7 125.2,363.7 126.8,363.7 128.3,363.7 129.9,363.7 131.5,363.7 133.0,363.7 134.6,363.7 136.1,363.7 137.7,363.7 139.2,363.7 140.8,363.7 142.3,363.7 143.8,363.7 145.4,363.7 147.0,363.7 148.5,363.7 150.1,363.7 151.6,363.7 153.2,363.7 154.7,363.8 156.2,363.9 157.8,364.1 159.3,364.3 160.9,364.7 162.5,365.1 164.0,365.6 165.6,366.1 167.1,366.6 168.7,367.1 170.2,367.5 171.8,367.9 173.3,368.2 174.8,368.4 176.4,368.5 177.9,368.6 179.5,368.6 181.1,368.6 182.6,368.6 184.2,368.6 185.7,368.6 187.2,368.6 188.8,368.6 190.3,368.6 191.9,368.6 193.4,368.6 195.0,368.6 196.6,368.6 198.1,368.6 198.1,368.6" fill="#505050" clip-path="url(#c23)"/>
<polyline points="91.2,368.6 92.7,368.6 94.2,368.6 95.8,368.6 97.3,368.6 98.9,368.6 100.5,368.5 102.0,368.1 103.6,367.5 105.1,366.4 106.7,365.3 108.2,364.5 109.8,364.0 111.3,363.7 112.8,363.7 114.4,363.7 116.0,363.7 117.5,363.7 119.1,363.7 120.6,363.7 122.2,363.7 123.7,363.7 125.2,363.7 126.8,363.7 128.3,363.7 129.9,363.7 131.5,363.7 133.0,363.7 134.6,363.7 136.1,363.7 137.7,363.7 139.2,363.7 140.8,363.7 142.3,363.7 143.8,363.7 145.4,363.7 147.0,363.7 148.5,363.7 150.1,363.7 151.6,363.7 153.2,363.7 154.7,363.8 156.2,363.9 157.8,364.1 159.3,364.3 160.9,364.7 162.5,365.1 164.0,365.6 165.6,366.1 167.1,366.6 168.7,367.1 170.2,367.5 171.8,367.9 173.3,368.2 174.8,368.4 176.4,368.5 177.9,368.6 179.5,368.6 181.1,368.6 182.6,368.6 184.2,368.6 185.7,368.6 187.2,368.6 188.8,368.6 190.3,368.6 191.9,368.6 193.4,368.6 195.0,368.6 196.6,368.6 198.1,368.6" fill="none" stroke="#111" stroke-width="0.9"/>
<polyline points="111.3,339.7 112.8,354.6 114.4,361.7 116.0,363.7 117.5,363.7 119.1,363.7 120.6,363.7 122.2,363.7 123.7,363.7 125.2,363.7 126.8,363.7 128.3,363.7 129.9,363.7 131.5,363.7 133.0,363.7 134.6,363.7 136.1,363.7 137.7,363.7 139.2,363.7 140.8,363.7 142.3,363.7 143.8,363.7 145.4,363.7 147.0,363.7 148.5,363.7 150.1,363.7 151.6,363.7 153.2,362.0 154.7,358.5 156.2,353.7 157.8,347.6 159.3,340.1 160.9,331.6 162.5,322.5 164.0,313.8 165.6,306.2 167.1,300.7 168.7,298.0 170.2,298.5 171.8,302.1 173.3,308.5 174.8,316.8 176.4,326.2 177.9,335.8 179.5,344.6 181.1,352.4 182.6,358.7 184.2,363.5 185.7,367.0 187.2,368.6 188.8,368.6 190.3,368.6 191.9,368.6 193.4,368.6 195.0,368.6 196.6,368.6 198.1,368.6 199.7,368.6" fill="none" stroke="#111" stroke-width="1.1"/>
<polyline points="88.1,368.4 89.6,368.2 91.2,366.6 92.7,365.7 94.2,366.9 95.8,363.3 97.3,352.7 98.9,333.6 100.5,301.8 102.0,267.9 103.6,241.5 105.1,234.9 106.7,251.5 108.2,282.2 109.8,315.3 111.3,339.4 112.8,355.4 114.4,362.5 116.0,364.2 117.5,364.3 119.1,363.9 120.6,364.5 122.2,364.5 123.7,364.3 125.2,364.4 126.8,363.9 128.3,364.5 129.9,363.0 131.5,363.4 133.0,364.2 134.6,364.0 136.1,363.7 137.7,363.5 139.2,363.6 140.8,361.4 142.3,359.9 143.8,360.0 145.4,358.3 147.0,358.1 148.5,356.5 150.1,353.9 151.6,353.3 153.2,348.1 154.7,349.7 156.2,348.3 157.8,342.0 159.3,338.2 160.9,331.6 162.5,322.2 164.0,314.5 165.6,305.9 167.1,297.8 168.7,286.6 170.2,286.6 171.8,291.8 173.3,306.7 174.8,317.2 176.4,325.7 177.9,335.7 179.5,344.1 181.1,352.7 182.6,359.2 184.2,362.9 185.7,366.1 187.2,368.4" fill="#fff" fill-opacity="0" stroke="#111" stroke-width="1.15" stroke-linejoin="round"/>
<path d="M35.4,208.9V368.6H221.3" fill="none" stroke="#111" stroke-width="1.2"/>
<path d="M35.35,368.6v4.8M41.55,368.6v3.0M47.75,368.6v3.0M53.95,368.6v3.0M60.15,368.6v3.0M66.35,368.6v4.8M72.55,368.6v3.0M78.75,368.6v3.0M84.95,368.6v3.0M91.15,368.6v3.0M97.35,368.6v4.8M103.55,368.6v3.0M109.75,368.6v3.0M115.95,368.6v3.0M122.15,368.6v3.0M128.35,368.6v4.8M134.55,368.6v3.0M140.75,368.6v3.0M146.95,368.6v3.0M153.15,368.6v3.0M159.35,368.6v4.8M165.55,368.6v3.0M171.75,368.6v3.0M177.95,368.6v3.0M184.15,368.6v3.0M190.35,368.6v4.8M196.55,368.6v3.0M202.75,368.6v3.0M208.95,368.6v3.0M215.15,368.6v3.0M221.35,368.6v4.8M35.4,368.65h-5.0M35.4,362.27h-3.2M35.4,355.89h-3.2M35.4,349.51h-3.2M35.4,343.13h-3.2M35.4,336.75h-5.0M35.4,330.37h-3.2M35.4,323.99h-3.2M35.4,317.61h-3.2M35.4,311.23h-3.2M35.4,304.85h-5.0M35.4,298.47h-3.2M35.4,292.09h-3.2M35.4,285.71h-3.2M35.4,279.33h-3.2M35.4,272.95h-5.0M35.4,266.57h-3.2M35.4,260.19h-3.2M35.4,253.81h-3.2M35.4,247.43h-3.2M35.4,241.05h-5.0M35.4,234.67h-3.2M35.4,228.29h-3.2M35.4,221.91h-3.2M35.4,215.53h-3.2M35.4,209.15h-3.2" stroke="#111" stroke-width="0.95" fill="none"/>
<text transform="translate(35.1,382.2) scale(1.05,1)" class="xt">0</text>
<text transform="translate(66.1,382.2) scale(1.05,1)" class="xt">20</text>
<text transform="translate(97.1,382.2) scale(1.05,1)" class="xt">40</text>
<text transform="translate(128.2,382.2) scale(1.05,1)" class="xt">60</text>
<text transform="translate(159.2,382.2) scale(1.05,1)" class="xt">80</text>
<text transform="translate(190.2,382.2) scale(1.05,1)" class="xt">100</text>
<text transform="translate(221.2,382.2) scale(1.05,1)" class="xt">120</text>
<text transform="translate(28.6,368.6) rotate(-90) scale(1.05,1)" class="yt">0</text>
<text transform="translate(28.6,336.8) rotate(-90) scale(1.05,1)" class="yt">300</text>
<text transform="translate(28.6,304.8) rotate(-90) scale(1.05,1)" class="yt">600</text>
<text transform="translate(28.6,272.9) rotate(-90) scale(1.05,1)" class="yt">900</text>
<text transform="translate(28.6,241.0) rotate(-90) scale(1.05,1)" class="yt">1200</text>
<text x="100.0" y="394.5" class="ch">Channels</text>
<text transform="translate(12.3,289.4) rotate(-90)" class="nm">Number</text>
<path d="M99.9,374.6L103.2,368.5L106.5,374.6Z" fill="#000"/>
<path d="M166.0,374.6L169.3,368.5L172.6,374.6Z" fill="#000"/>
<text x="140.0" y="224.6" class="an">7.5µM tachpyr</text>
<text x="140.0" y="240.6" class="an">G0/G1: 41%</text>
<text x="140.0" y="256.0" class="an">S: 14%</text>
<text x="140.0" y="271.7" class="an">G2/M: 45%</text>
<clipPath id="cs4"><polygon points="345.8,371.0 345.8,371.0 347.3,371.0 348.8,371.0 350.4,371.0 351.9,371.0 353.4,371.0 355.0,370.9 356.5,370.6 358.0,369.9 359.6,368.8 361.1,367.2 362.7,365.6 364.2,364.3 365.7,363.5 367.3,363.2 368.8,363.0 370.3,363.0 371.9,363.0 373.4,363.0 375.0,363.0 376.5,363.0 378.0,363.0 379.6,363.0 381.1,363.0 382.6,363.0 384.2,363.0 385.7,363.0 387.3,363.0 388.8,363.0 390.3,363.0 391.9,363.0 393.4,363.0 394.9,363.0 396.5,363.0 398.0,363.0 399.6,363.0 401.1,363.0 402.6,363.0 404.2,363.1 405.7,363.1 407.2,363.2 408.8,363.3 410.3,363.5 411.9,363.8 413.4,364.1 414.9,364.6 416.5,365.1 418.0,365.7 419.5,366.4 421.1,367.1 422.6,367.8 424.2,368.5 425.7,369.1 427.2,369.6 428.8,370.0 430.3,370.3 431.9,370.5 433.4,370.7 434.9,370.8 436.5,370.9 438.0,370.9 439.5,371.0 441.1,371.0 442.6,371.0 444.1,371.0 445.7,371.0 447.2,371.0 448.8,371.0 450.3,371.0 451.8,371.0 453.4,371.0 454.9,371.0 456.4,371.0 458.0,371.0 459.5,371.0 459.5,371.0"/></clipPath>
<path d="M325.8,357.0l20.0,20.0M331.9,357.0l20.0,20.0M338.1,357.0l20.0,20.0M344.3,357.0l20.0,20.0M350.5,357.0l20.0,20.0M356.7,357.0l20.0,20.0M362.9,357.0l20.0,20.0M369.1,357.0l20.0,20.0M375.3,357.0l20.0,20.0M381.5,357.0l20.0,20.0M387.7,357.0l20.0,20.0M393.9,357.0l20.0,20.0M400.1,357.0l20.0,20.0M406.3,357.0l20.0,20.0M412.5,357.0l20.0,20.0M418.7,357.0l20.0,20.0M424.9,357.0l20.0,20.0M431.1,357.0l20.0,20.0M437.3,357.0l20.0,20.0M443.5,357.0l20.0,20.0M449.7,357.0l20.0,20.0M455.9,357.0l20.0,20.0M462.1,357.0l20.0,20.0" stroke="#666" stroke-width="0.9" fill="none" clip-path="url(#cs4)"/>
<polygon points="344.2,371.0 344.2,371.0 345.8,371.0 347.3,371.0 348.8,371.0 350.4,368.4 351.9,361.3 353.4,347.1 355.0,324.0 356.5,293.8 358.0,263.3 359.6,243.0 361.1,241.1 362.7,258.4 364.2,287.8 365.7,318.8 367.3,343.5 368.8,359.2 370.3,367.5 371.9,371.0 373.4,371.0 375.0,371.0 376.5,371.0 376.5,371.0" fill="#464646" stroke="#111" stroke-width="1.1" stroke-linejoin="round"/>
<polygon points="388.8,371.0 388.8,371.0 390.3,371.0 391.9,371.0 393.4,371.0 394.9,371.0 396.5,371.0 398.0,371.0 399.6,371.0 401.1,371.0 402.6,371.0 404.2,371.0 405.7,369.0 407.2,365.6 408.8,361.1 410.3,355.3 411.9,348.3 413.4,340.1 414.9,331.0 416.5,321.3 418.0,311.6 419.5,302.6 421.1,294.8 422.6,289.1 424.2,285.8 425.7,285.4 427.2,287.7 428.8,292.6 430.3,299.7 431.9,308.3 433.4,317.9 434.9,327.6 436.5,337.0 438.0,345.6 439.5,353.0 441.1,359.2 442.6,364.2 444.1,368.0 445.7,370.8 447.2,371.0 448.8,371.0 450.3,371.0 451.8,371.0 453.4,371.0 454.9,371.0 456.4,371.0 458.0,371.0 459.5,371.0 461.1,371.0 461.1,371.0" fill="#5e5e5e" stroke="#111" stroke-width="1.1" stroke-linejoin="round"/>
<polygon points="345.8,371.0 345.8,371.0 347.3,371.0 348.8,371.0 350.4,371.0 351.9,371.0 353.4,371.0 355.0,370.9 356.5,370.6 358.0,369.9 359.6,368.8 361.1,367.2 362.7,365.6 364.2,364.3 365.7,363.5 367.3,363.2 368.8,363.0 370.3,363.0 371.9,363.0 373.4,363.0 375.0,363.0 376.5,363.0 378.0,363.0 379.6,363.0 381.1,363.0 382.6,363.0 384.2,363.0 385.7,363.0 387.3,363.0 388.8,363.0 390.3,363.0 391.9,363.0 393.4,363.0 394.9,363.0 396.5,363.0 398.0,363.0 399.6,363.0 401.1,363.0 402.6,363.0 404.2,363.1 405.7,363.1 407.2,363.2 408.8,363.3 410.3,363.5 411.9,363.8 413.4,364.1 414.9,364.6 416.5,365.1 418.0,365.7 419.5,366.4 421.1,367.1 422.6,367.8 424.2,368.5 425.7,369.1 427.2,369.6 428.8,370.0 430.3,370.3 431.9,370.5 433.4,370.7 434.9,370.8 436.5,370.9 438.0,370.9 439.5,371.0 441.1,371.0 442.6,371.0 444.1,371.0 445.7,371.0 447.2,371.0 448.8,371.0 450.3,371.0 451.8,371.0 453.4,371.0 454.9,371.0 456.4,371.0 458.0,371.0 459.5,371.0 459.5,371.0" fill="#000" fill-opacity="0.0" stroke="#111" stroke-width="0.7"/>
<clipPath id="c14"><polygon points="344.2,371.0 344.2,371.0 345.8,371.0 347.3,371.0 348.8,371.0 350.4,368.4 351.9,361.3 353.4,347.1 355.0,324.0 356.5,293.8 358.0,263.3 359.6,243.0 361.1,241.1 362.7,258.4 364.2,287.8 365.7,318.8 367.3,343.5 368.8,359.2 370.3,367.5 371.9,371.0 373.4,371.0 375.0,371.0 376.5,371.0 376.5,371.0"/></clipPath><clipPath id="c24"><polygon points="388.8,371.0 388.8,371.0 390.3,371.0 391.9,371.0 393.4,371.0 394.9,371.0 396.5,371.0 398.0,371.0 399.6,371.0 401.1,371.0 402.6,371.0 404.2,371.0 405.7,369.0 407.2,365.6 408.8,361.1 410.3,355.3 411.9,348.3 413.4,340.1 414.9,331.0 416.5,321.3 418.0,311.6 419.5,302.6 421.1,294.8 422.6,289.1 424.2,285.8 425.7,285.4 427.2,287.7 428.8,292.6 430.3,299.7 431.9,308.3 433.4,317.9 434.9,327.6 436.5,337.0 438.0,345.6 439.5,353.0 441.1,359.2 442.6,364.2 444.1,368.0 445.7,370.8 447.2,371.0 448.8,371.0 450.3,371.0 451.8,371.0 453.4,371.0 454.9,371.0 456.4,371.0 458.0,371.0 459.5,371.0 461.1,371.0 461.1,371.0"/></clipPath>
<polygon points="345.8,371.0 345.8,371.0 347.3,371.0 348.8,371.0 350.4,371.0 351.9,371.0 353.4,371.0 355.0,370.9 356.5,370.6 358.0,369.9 359.6,368.8 361.1,367.2 362.7,365.6 364.2,364.3 365.7,363.5 367.3,363.2 368.8,363.0 370.3,363.0 371.9,363.0 373.4,363.0 375.0,363.0 376.5,363.0 378.0,363.0 379.6,363.0 381.1,363.0 382.6,363.0 384.2,363.0 385.7,363.0 387.3,363.0 388.8,363.0 390.3,363.0 391.9,363.0 393.4,363.0 394.9,363.0 396.5,363.0 398.0,363.0 399.6,363.0 401.1,363.0 402.6,363.0 404.2,363.1 405.7,363.1 407.2,363.2 408.8,363.3 410.3,363.5 411.9,363.8 413.4,364.1 414.9,364.6 416.5,365.1 418.0,365.7 419.5,366.4 421.1,367.1 422.6,367.8 424.2,368.5 425.7,369.1 427.2,369.6 428.8,370.0 430.3,370.3 431.9,370.5 433.4,370.7 434.9,370.8 436.5,370.9 438.0,370.9 439.5,371.0 441.1,371.0 442.6,371.0 444.1,371.0 445.7,371.0 447.2,371.0 448.8,371.0 450.3,371.0 451.8,371.0 453.4,371.0 454.9,371.0 456.4,371.0 458.0,371.0 459.5,371.0 459.5,371.0" fill="#575757" clip-path="url(#c14)"/>
<polygon points="345.8,371.0 345.8,371.0 347.3,371.0 348.8,371.0 350.4,371.0 351.9,371.0 353.4,371.0 355.0,370.9 356.5,370.6 358.0,369.9 359.6,368.8 361.1,367.2 362.7,365.6 364.2,364.3 365.7,363.5 367.3,363.2 368.8,363.0 370.3,363.0 371.9,363.0 373.4,363.0 375.0,363.0 376.5,363.0 378.0,363.0 379.6,363.0 381.1,363.0 382.6,363.0 384.2,363.0 385.7,363.0 387.3,363.0 388.8,363.0 390.3,363.0 391.9,363.0 393.4,363.0 394.9,363.0 396.5,363.0 398.0,363.0 399.6,363.0 401.1,363.0 402.6,363.0 404.2,363.1 405.7,363.1 407.2,363.2 408.8,363.3 410.3,363.5 411.9,363.8 413.4,364.1 414.9,364.6 416.5,365.1 418.0,365.7 419.5,366.4 421.1,367.1 422.6,367.8 424.2,368.5 425.7,369.1 427.2,369.6 428.8,370.0 430.3,370.3 431.9,370.5 433.4,370.7 434.9,370.8 436.5,370.9 438.0,370.9 439.5,371.0 441.1,371.0 442.6,371.0 444.1,371.0 445.7,371.0 447.2,371.0 448.8,371.0 450.3,371.0 451.8,371.0 453.4,371.0 454.9,371.0 456.4,371.0 458.0,371.0 459.5,371.0 459.5,371.0" fill="#505050" clip-path="url(#c24)"/>
<polyline points="345.8,371.0 347.3,371.0 348.8,371.0 350.4,371.0 351.9,371.0 353.4,371.0 355.0,370.9 356.5,370.6 358.0,369.9 359.6,368.8 361.1,367.2 362.7,365.6 364.2,364.3 365.7,363.5 367.3,363.2 368.8,363.0 370.3,363.0 371.9,363.0 373.4,363.0 375.0,363.0 376.5,363.0 378.0,363.0 379.6,363.0 381.1,363.0 382.6,363.0 384.2,363.0 385.7,363.0 387.3,363.0 388.8,363.0 390.3,363.0 391.9,363.0 393.4,363.0 394.9,363.0 396.5,363.0 398.0,363.0 399.6,363.0 401.1,363.0 402.6,363.0 404.2,363.1 405.7,363.1 407.2,363.2 408.8,363.3 410.3,363.5 411.9,363.8 413.4,364.1 414.9,364.6 416.5,365.1 418.0,365.7 419.5,366.4 421.1,367.1 422.6,367.8 424.2,368.5 425.7,369.1 427.2,369.6 428.8,370.0 430.3,370.3 431.9,370.5 433.4,370.7 434.9,370.8 436.5,370.9 438.0,370.9 439.5,371.0 441.1,371.0 442.6,371.0 444.1,371.0 445.7,371.0 447.2,371.0 448.8,371.0 450.3,371.0 451.8,371.0 453.4,371.0 454.9,371.0 456.4,371.0 458.0,371.0 459.5,371.0" fill="none" stroke="#111" stroke-width="0.9"/>
<polyline points="367.3,335.6 368.8,351.3 370.3,359.5 371.9,363.0 373.4,363.0 375.0,363.0 376.5,363.0 378.0,363.0 379.6,363.0 381.1,363.0 382.6,363.0 384.2,363.0 385.7,363.0 387.3,363.0 388.8,363.0 390.3,363.0 391.9,363.0 393.4,363.0 394.9,363.0 396.5,363.0 398.0,363.0 399.6,363.0 401.1,363.0 402.6,363.0 404.2,363.1 405.7,361.2 407.2,357.8 408.8,353.4 410.3,347.8 411.9,341.1 413.4,333.2 414.9,324.5 416.5,315.4 418.0,306.3 419.5,298.0 421.1,291.0 422.6,285.9 424.2,283.3 425.7,283.4 427.2,286.2 428.8,291.6 430.3,299.0 431.9,307.9 433.4,317.6 434.9,327.4 436.5,336.9 438.0,345.5 439.5,353.0 441.1,359.2 442.6,364.2 444.1,368.0 445.7,370.8 447.2,371.0 448.8,371.0 450.3,371.0 451.8,371.0 453.4,371.0 454.9,371.0 456.4,371.0 458.0,371.0 459.5,371.0 461.1,371.0" fill="none" stroke="#111" stroke-width="1.1"/>
<polyline points="344.2,370.8 345.8,369.8 347.3,367.8 348.8,364.7 350.4,358.1 351.9,351.4 353.4,340.1 355.0,320.5 356.5,293.0 358.0,262.0 359.6,241.0 361.1,238.1 362.7,253.9 364.2,281.5 365.7,311.7 367.3,335.3 368.8,350.4 370.3,359.6 371.9,362.2 373.4,362.1 375.0,362.2 376.5,363.2 378.0,363.5 379.6,363.5 381.1,363.5 382.6,363.5 384.2,362.6 385.7,362.0 387.3,361.9 388.8,362.3 390.3,361.5 391.9,360.6 393.4,361.6 394.9,359.2 396.5,357.2 398.0,356.3 399.6,355.1 401.1,355.0 402.6,355.5 404.2,351.9 405.7,352.0 407.2,346.7 408.8,343.0 410.3,341.8 411.9,337.0 413.4,329.3 414.9,322.5 416.5,315.3 418.0,306.6 419.5,297.6 421.1,286.9 422.6,276.3 424.2,266.5 425.7,259.0 427.2,262.4 428.8,275.7 430.3,291.8 431.9,305.3 433.4,317.6 434.9,328.2 436.5,336.0 438.0,345.2 439.5,352.9 441.1,358.4 442.6,364.3 444.1,367.3 445.7,370.8" fill="#fff" fill-opacity="0" stroke="#111" stroke-width="1.15" stroke-linejoin="round"/>
<path d="M290.4,210.6V371.0H474.9" fill="none" stroke="#111" stroke-width="1.2"/>
<path d="M290.40,371.0v4.8M296.55,371.0v3.0M302.70,371.0v3.0M308.85,371.0v3.0M315.00,371.0v3.0M321.15,371.0v4.8M327.30,371.0v3.0M333.45,371.0v3.0M339.60,371.0v3.0M345.75,371.0v3.0M351.90,371.0v4.8M358.05,371.0v3.0M364.20,371.0v3.0M370.35,371.0v3.0M376.50,371.0v3.0M382.65,371.0v4.8M388.80,371.0v3.0M394.95,371.0v3.0M401.10,371.0v3.0M407.25,371.0v3.0M413.40,371.0v4.8M419.55,371.0v3.0M425.70,371.0v3.0M431.85,371.0v3.0M438.00,371.0v3.0M444.15,371.0v4.8M450.30,371.0v3.0M456.45,371.0v3.0M462.60,371.0v3.0M468.75,371.0v3.0M474.90,371.0v4.8M290.4,371.00h-5.0M290.4,365.68h-3.2M290.4,360.36h-3.2M290.4,355.04h-3.2M290.4,349.72h-3.2M290.4,344.40h-5.0M290.4,339.08h-3.2M290.4,333.76h-3.2M290.4,328.44h-3.2M290.4,323.12h-3.2M290.4,317.80h-5.0M290.4,312.48h-3.2M290.4,307.16h-3.2M290.4,301.84h-3.2M290.4,296.52h-3.2M290.4,291.20h-5.0M290.4,285.88h-3.2M290.4,280.56h-3.2M290.4,275.24h-3.2M290.4,269.92h-3.2M290.4,264.60h-5.0M290.4,259.28h-3.2M290.4,253.96h-3.2M290.4,248.64h-3.2M290.4,243.32h-3.2M290.4,238.00h-5.0M290.4,232.68h-3.2M290.4,227.36h-3.2M290.4,222.04h-3.2M290.4,216.72h-3.2M290.4,211.40h-3.2" stroke="#111" stroke-width="0.95" fill="none"/>
<text transform="translate(290.2,384.6) scale(1.05,1)" class="xt">0</text>
<text transform="translate(320.9,384.6) scale(1.05,1)" class="xt">20</text>
<text transform="translate(351.7,384.6) scale(1.05,1)" class="xt">40</text>
<text transform="translate(382.4,384.6) scale(1.05,1)" class="xt">60</text>
<text transform="translate(413.2,384.6) scale(1.05,1)" class="xt">80</text>
<text transform="translate(443.9,384.6) scale(1.05,1)" class="xt">100</text>
<text transform="translate(474.7,384.6) scale(1.05,1)" class="xt">120</text>
<text transform="translate(283.6,371.0) rotate(-90) scale(1.05,1)" class="yt">0</text>
<text transform="translate(283.6,344.4) rotate(-90) scale(1.05,1)" class="yt">200</text>
<text transform="translate(283.6,317.8) rotate(-90) scale(1.05,1)" class="yt">400</text>
<text transform="translate(283.6,291.2) rotate(-90) scale(1.05,1)" class="yt">600</text>
<text transform="translate(283.6,264.6) rotate(-90) scale(1.05,1)" class="yt">800</text>
<text transform="translate(283.6,238.0) rotate(-90) scale(1.05,1)" class="yt">1000</text>
<text x="356.2" y="394.8" class="ch">Channels</text>
<text transform="translate(267.4,291.4) rotate(-90)" class="nm">Number</text>
<path d="M356.0,377.0L359.3,370.9L362.6,377.0Z" fill="#000"/>
<path d="M422.7,377.0L426.0,370.9L429.3,377.0Z" fill="#000"/>
<text x="438.3" y="223.3" class="an">10µM tachpyr</text>
<text x="438.3" y="239.2" class="an">G0/G1: 36%</text>
<text x="438.3" y="255.0" class="an">S: 16%</text>
<text x="438.3" y="270.8" class="an">G2/M: 48%</text>
</svg>
</body></html>
